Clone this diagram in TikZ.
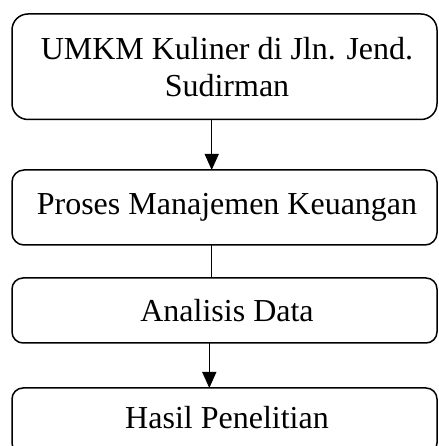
\documentclass[tikz,border=0pt]{standalone}
\usepackage{fontspec}
\setmainfont{Liberation Serif}
\usetikzlibrary{arrows.meta}
\begin{document}
\begin{tikzpicture}[x=1pt,y=1pt,
  box/.style={draw=black, line width=1.5pt, rectangle, minimum width=425pt, inner sep=0pt, outer sep=0pt},
  lbl/.style={anchor=base, inner sep=0pt, font=\fontsize{32}{36.8}\selectfont},
  conn/.style={draw=black, line width=1.3pt},
  arr/.style={conn, -{Triangle[length=16pt,width=14pt]}}]
\useasboundingbox (0,0) rectangle (438,446);
\node[box, rounded corners=16pt, minimum height=105.5pt] (b1) at (224.5,379.25) {};
\node[box, rounded corners=12pt, minimum height=75pt] (b2) at (224.5,238.5) {};
\node[box, rounded corners=11pt, minimum height=65pt] (b3) at (224.5,135.5) {};
\node[box, rounded corners=11pt, minimum height=66pt] (b4) at (224.5,25) {};
\node[lbl] (t1a) at (227,386) {UMKM Kuliner di Jln. Jend.};
\node[lbl] (t1b) at (227,349.3) {Sudirman};
\node[lbl] (t2) at (227,231) {Proses Manajemen Keuangan};
\node[lbl] (t3) at (227,124.3) {Analisis Data};
\node[lbl] (t4) at (227,17) {Hasil Penelitian};
\coordinate (ax1) at (211.7,0);
\coordinate (ax3) at (209.3,0);
\draw[arr] (b1.south -| ax1) -- (b2.north -| ax1);
\draw[conn] (b2.south -| ax1) -- (b3.north -| ax1);
\draw[arr] (b3.south -| ax3) -- (b4.north -| ax3);
\end{tikzpicture}
\end{document}
